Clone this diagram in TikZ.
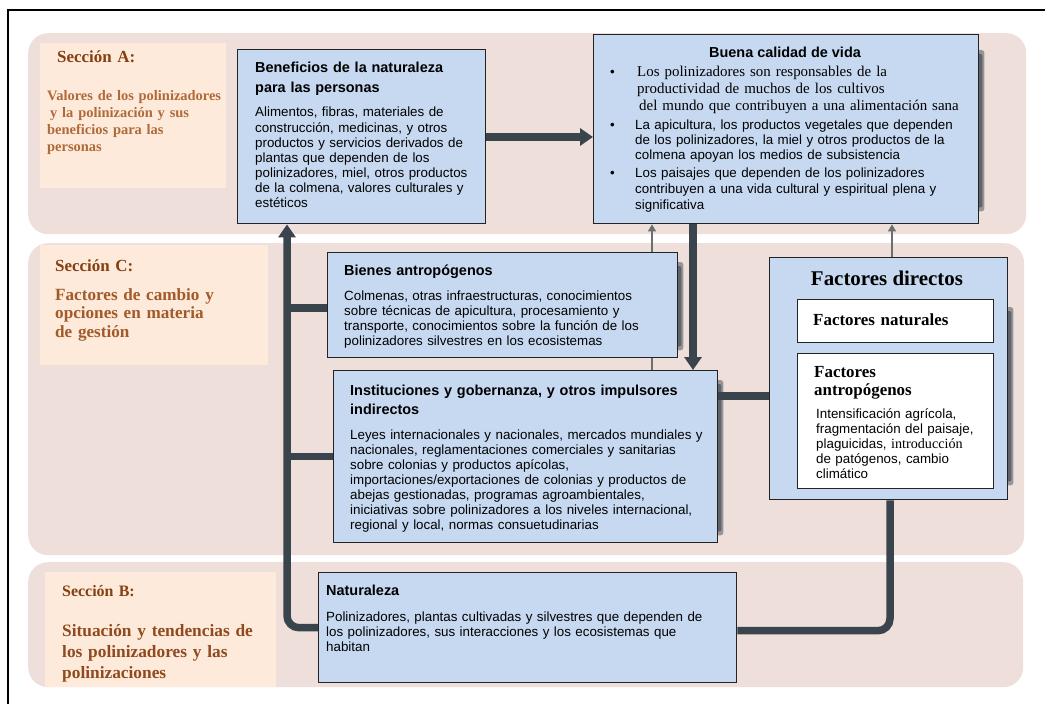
\documentclass[tikz,border=0pt]{standalone}
\usepackage{fontspec}
\setmainfont{Liberation Serif}
\setsansfont{Liberation Sans}
\usetikzlibrary{arrows.meta}
\pgfdeclarelayer{bg}
\pgfdeclarelayer{conn}
\pgfsetlayers{bg,conn,main}
\definecolor{bandc}{RGB}{238,223,219}
\definecolor{labc}{RGB}{253,234,218}
\definecolor{boxblue}{RGB}{198,217,240}
\definecolor{boxline}{RGB}{35,35,35}
\definecolor{linec}{RGB}{58,68,77}
\definecolor{thinc}{RGB}{105,112,110}
\definecolor{shadowc}{RGB}{80,88,94}
\definecolor{sechead}{RGB}{133,63,16}
\definecolor{secbodyA}{RGB}{176,106,58}
\definecolor{secbodyC}{RGB}{163,90,42}
\definecolor{secbodyB}{RGB}{143,74,30}
\newcommand\myfs[2]{\fontsize{#1}{#2}\selectfont}
\begin{document}
\begin{tikzpicture}[x=1bp,y=-1bp,
  band/.style={fill=bandc, rounded corners=20bp, inner sep=0pt, anchor=north west},
  lab/.style={fill=labc, inner sep=0pt, anchor=north west},
  box/.style={draw=boxline, line width=1.4bp, fill=boxblue, inner sep=0pt, anchor=north west},
  wbox/.style={draw=boxline, line width=1.4bp, fill=white, inner sep=0pt, anchor=north west},
  txt/.style={inner sep=0pt, anchor=base west, align=left, text width=430bp},
  ttl/.style={txt, font=\sffamily\bfseries\myfs{14.5}{20}},
  bod/.style={txt, font=\sffamily\myfs{13.4}{15.1}},
  shead/.style={txt, text=sechead, font=\rmfamily\bfseries\myfs{17}{20}},
  thick link/.style={draw=linec, line width=7.5bp},
  thick arrow/.style={thick link, -{Triangle[length=13bp,width=17bp]}},
  thin arrow/.style={draw=thinc, line width=1.3bp, -{Triangle[length=7bp,width=8bp]}},
  shadow/.style={fill=shadowc, rounded corners=3bp, fill opacity=0.55},
  shadowin/.style={fill=shadowc, rounded corners=2bp, fill opacity=0.8}
]
\useasboundingbox (0,0) rectangle (1045,704);

% ---------- section bands and labels ----------
\begin{pgfonlayer}{bg}
  \fill[white] (0,0) rectangle (1045,704);
  \node[band, minimum width=998bp, minimum height=201bp] (bandA) at (28,33) {};
  \node[band, minimum width=996bp, minimum height=312bp] (bandC) at (28,243) {};
  \node[band, minimum width=995bp, minimum height=125bp] (bandB) at (28,562) {};
  \node[lab, minimum width=186bp, minimum height=145bp] (labA) at (40,43) {};
  \node[lab, minimum width=228bp, minimum height=120bp] (labC) at (40,245) {};
  \node[lab, minimum width=231bp, minimum height=115bp] (labB) at (45,572) {};
  \draw[line width=2bp] (8,704) -- (8,10) -- (1045,10);
\end{pgfonlayer}

\node[shead] (secA) at (57,63) {Sección A:};
\node[txt, text=secbodyA, font=\rmfamily\bfseries\myfs{14.5}{17}] (secAb) at (47,101)
  {Valores de los polinizadores\\\hspace*{3bp}y la polinización y sus\\beneficios para las\\personas};
\node[shead] (secC) at (55,271) {Sección C:};
\node[txt, text=secbodyC, font=\rmfamily\bfseries\myfs{17.2}{19}] (secCb) at (55,300)
  {Factores de cambio y\\opciones en materia\\de gestión};
\node[shead, font=\rmfamily\bfseries\myfs{16}{20}] (secB) at (62,596) {Sección B:};
\node[txt, text=secbodyB, font=\rmfamily\bfseries\myfs{17.4}{21.5}] (secBb) at (62,636)
  {Situación y tendencias de\\los polinizadores y las\\polinizaciones};

% ---------- boxes ----------
\node[box, minimum width=248bp, minimum height=174bp] (ben) at (237,49) {};
\node[box, minimum width=385bp, minimum height=189bp] (buena) at (593,34) {};
\node[box, minimum width=350bp, minimum height=105bp] (bienes) at (327,252) {};
\node[box, minimum width=384bp, minimum height=172bp] (inst) at (333,370) {};
\node[box, minimum width=238bp, minimum height=242bp] (fd) at (769,257) {};
\node[wbox, minimum width=196bp, minimum height=43bp] (fnat) at (797,299) {};
\node[wbox, minimum width=196bp, minimum height=135bp] (fant) at (797,353) {};
\node[box, minimum width=418bp, minimum height=110bp] (nat) at (318,572) {};

% ---------- texts in boxes ----------
\node[ttl] (bent) at (255,73) {Beneficios de la naturaleza\\para las personas};
\node[bod] (benb) at (255,117) {Alimentos, fibras, materiales de\\construcción, medicinas, y otros\\productos y servicios derivados de\\plantas que dependen de los\\polinizadores, miel, otros productos\\de la colmena, valores culturales y\\estéticos};

\node[inner sep=0pt, anchor=base, font=\sffamily\bfseries\myfs{14.5}{17}] (buet) at (785,58) {Buena calidad de vida};
\node[txt, font=\rmfamily\myfs{15}{17}] (bue1) at (610,77)
  {\makebox[27bp][l]{\sffamily\myfs{13.4}{17}\textbullet}Los polinizadores son responsables de la\\\hspace*{27bp}productividad de muchos de los cultivos\\\hspace*{29bp}del mundo que contribuyen a una alimentación sana};
\node[txt, font=\sffamily\myfs{13.4}{15}] (bue2) at (610,130)
  {\makebox[25bp][l]{\textbullet}La apicultura, los productos vegetales que dependen\\\hspace*{25bp}de los polinizadores, la miel y otros productos de la\\\hspace*{25bp}colmena apoyan los medios de subsistencia};
\node[txt, font=\sffamily\myfs{13.4}{16}] (bue3) at (610,178)
  {\makebox[25bp][l]{\textbullet}Los paisajes que dependen de los polinizadores\\\hspace*{25bp}contribuyen a una vida cultural y espiritual plena y\\\hspace*{25bp}significativa};

\node[ttl] (bient) at (344,275) {Bienes antropógenos};
\node[bod] (bienb) at (344,300) {Colmenas, otras infraestructuras, conocimientos\\sobre técnicas de apicultura, procesamiento y\\transporte, conocimientos sobre la función de los\\polinizadores silvestres en los ecosistemas};

\node[ttl] (instt) at (350,395) {Instituciones y gobernanza, y otros impulsores\\indirectos};
\node[bod] (instb) at (350,439) {Leyes internacionales y nacionales, mercados mundiales y\\nacionales, reglamentaciones comerciales y sanitarias\\sobre colonias y productos apícolas,\\importaciones/exportaciones de colonias y productos de\\abejas gestionadas, programas agroambientales,\\iniciativas sobre polinizadores a los niveles internacional,\\regional y local, normas consuetudinarias};

\node[inner sep=0pt, anchor=base, font=\rmfamily\bfseries\myfs{21}{24}] (fdt) at (887,285) {Factores directos};
\node[txt, font=\rmfamily\bfseries\myfs{17}{19}] (fnatt) at (813,325) {Factores naturales};
\node[txt, font=\rmfamily\bfseries\myfs{17}{19}] (fantt) at (814,377) {Factores\\antropógenos};
\node[bod] (fantb) at (816,418) {Intensificación agrícola,\\fragmentación del paisaje,\\plaguicidas, {\rmfamily\myfs{14.2}{15.1}introducción}\\de patógenos, cambio\\climático};

\node[ttl] (natt) at (326,595) {Naturaleza};
\node[bod] (natb) at (326,621) {Polinizadores, plantas cultivadas y silvestres que dependen de\\los polinizadores, sus interacciones y los ecosistemas que\\habitan};

% ---------- connectors ----------
\coordinate (xl) at (287,0);
\coordinate (xr) at (890,0);
\coordinate (xa) at (693,0);
\coordinate (xt1) at (652,0);
\coordinate (xt2) at (892,0);
\coordinate (ya) at (0,137);
\coordinate (yb) at (0,308);
\coordinate (yl) at (0,396);

\begin{pgfonlayer}{conn}
  \foreach \b/\t/\u in {buena/16/13, bienes/10/8, inst/10/8, fd/50/15}{
    \fill[shadow] ([xshift=-4bp,yshift=-\t bp]\b.north east) rectangle ([xshift=5bp,yshift=\u bp]\b.south east);
    \fill[shadowin] ([xshift=-4bp,yshift=-\t bp-4bp]\b.north east) rectangle ([xshift=3bp,yshift=\u bp+4bp]\b.south east);
  }

  \draw[thin arrow] (inst.north -| xt1) -- (buena.south -| xt1);
  \draw[thin arrow] (fd.north -| xt2) -- (buena.south -| xt2);

  \draw[thick arrow] (ben.east |- ya) -- (buena.west |- ya);
  \draw[thick arrow] (buena.south -| xa) -- (inst.north -| xa);
  \draw[thick link] (inst.east |- yl) -- (fd.west |- yl);
  \draw[thick link] (bienes.west |- yb) -- (xl |- yb);
  \draw[thick link] (inst.west) -- (inst.west -| xl);
  \draw[thick arrow, rounded corners=12bp] (nat.west) -| (ben.south -| xl);
  \draw[thick link, rounded corners=12bp] (fd.south -| xr) |- ([yshift=-3bp]nat.east);
\end{pgfonlayer}
\end{tikzpicture}
\end{document}
